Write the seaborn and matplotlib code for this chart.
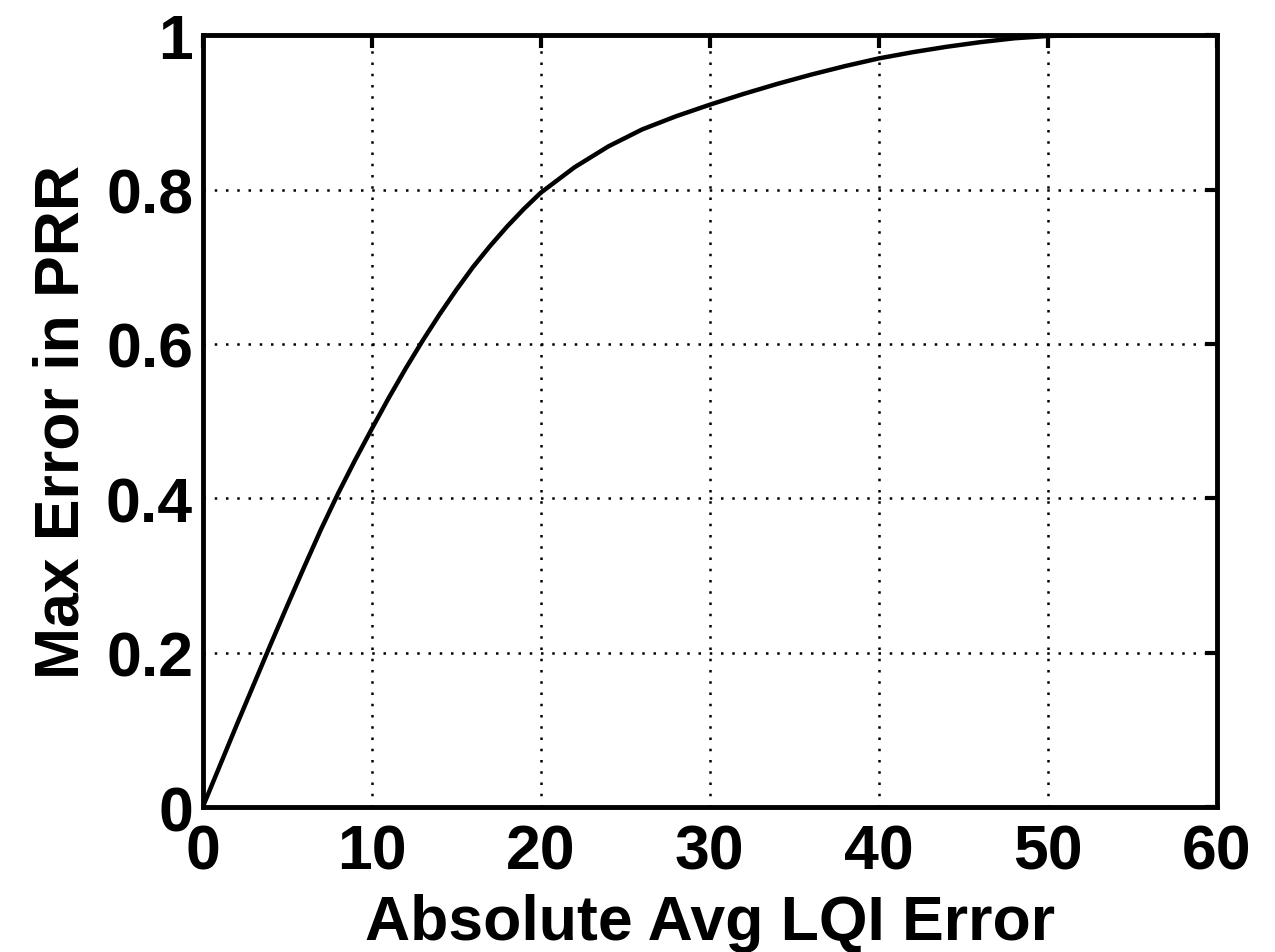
import matplotlib
matplotlib.use("Agg")
import matplotlib.pyplot as plt
import seaborn as sns
import pandas as pd

lqi_error = [0, 1, 2, 3, 4, 5, 6, 7, 8, 9, 10, 11, 12, 13, 14, 15, 16, 17, 18, 19, 20,
             22, 24, 26, 28, 30, 32, 34, 36, 38, 40, 42, 44, 46, 48, 50, 52]
prr_error = [0, 0.053, 0.106, 0.158, 0.21, 0.261, 0.311, 0.36, 0.406, 0.449, 0.49,
             0.53, 0.568, 0.604, 0.638, 0.67, 0.7, 0.727, 0.752, 0.775, 0.796,
             0.829, 0.856, 0.878, 0.895, 0.91, 0.924, 0.937, 0.949, 0.96, 0.97,
             0.978, 0.985, 0.991, 0.996, 0.999, 1.0]
x_ticks = [0, 10, 20, 30, 40, 50, 60]
y_ticks = [0, 0.2, 0.4, 0.6, 0.8, 1]
y_tick_labels = ["0", "0.2", "0.4", "0.6", "0.8", "1"]

sns.set_style("white")
plt.rcParams['font.family'] = ['Liberation Sans', 'DejaVu Sans']
plt.rcParams['font.weight'] = 'bold'
plt.rcParams['text.color'] = 'black'
plt.rcParams['axes.labelcolor'] = 'black'
plt.rcParams['xtick.color'] = 'black'
plt.rcParams['ytick.color'] = 'black'

df = pd.DataFrame({"x": lqi_error, "y": prr_error})

fig = plt.figure(figsize=(12.75, 9.53), dpi=100)
ax = fig.add_axes([0.159, 0.152, 0.7955, 0.810])
sns.lineplot(data=df, x="x", y="y", ax=ax, color="black", linewidth=3.2)

ax.set_xlim(0, 60)
ax.set_ylim(0, 1)
ax.set_xticks(x_ticks)
ax.set_yticks(y_ticks)
ax.set_xticklabels([str(t) for t in x_ticks], fontsize=45, fontweight='bold')
ax.set_yticklabels(y_tick_labels, fontsize=45, fontweight='bold')
ax.grid(True, color="black", linestyle=(0, (1, 3.5)), linewidth=1.8)
ax.tick_params(direction="in", length=9, width=3, top=True, right=True)
ax.tick_params(axis='x', pad=11)
ax.tick_params(axis='y', pad=7)
for s in ax.spines.values():
    s.set_linewidth(3.5)
    s.set_color("black")
ax.set_xlabel("Absolute Avg LQI Error", fontsize=45, fontweight='bold', labelpad=8)
ax.set_ylabel("Max Error in PRR", fontsize=45, fontweight='bold', labelpad=10)

fig.savefig("out.png", dpi=100, facecolor="white")
